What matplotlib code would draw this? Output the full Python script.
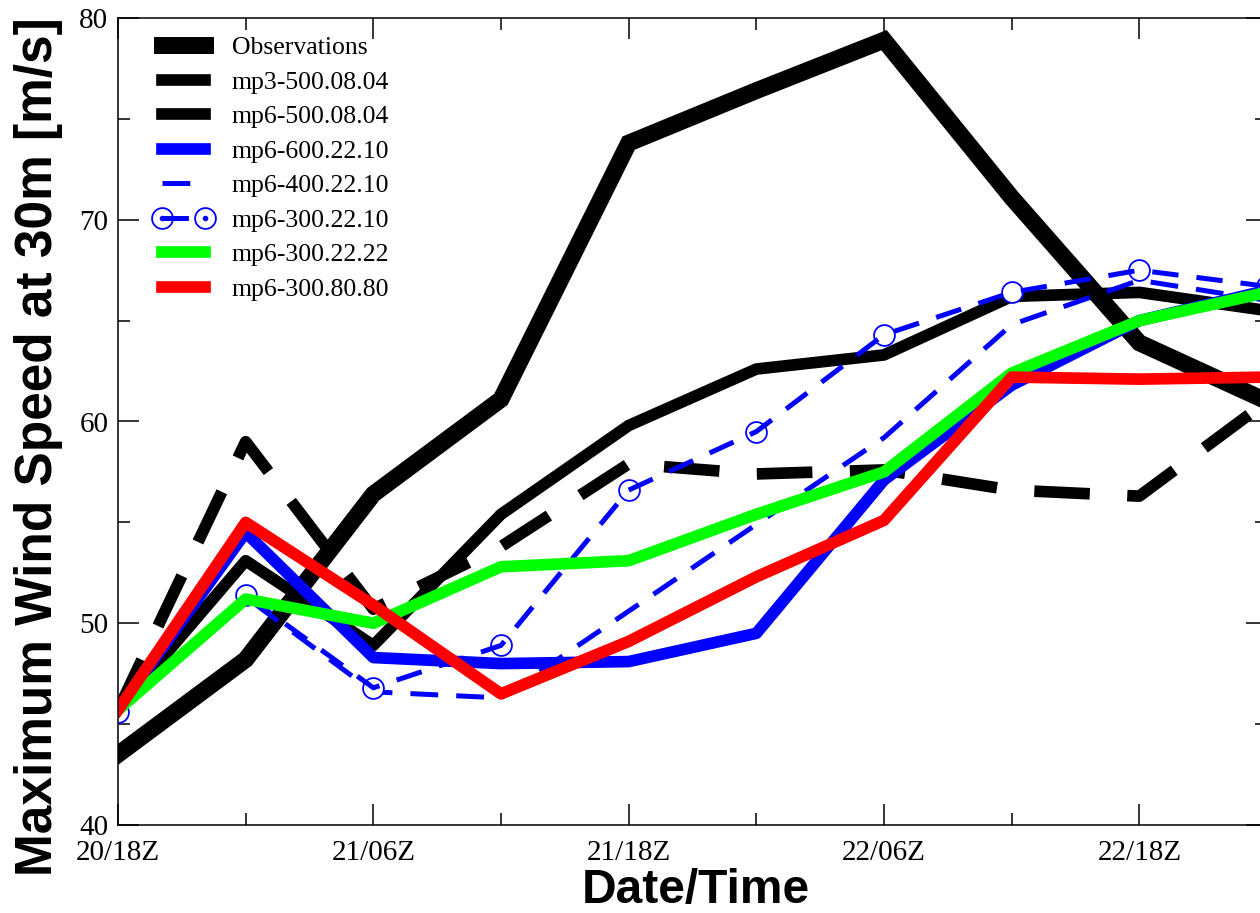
import matplotlib
matplotlib.use("Agg")
import matplotlib.pyplot as plt
from matplotlib.lines import Line2D
from matplotlib.ticker import MultipleLocator, FixedLocator, FixedFormatter

# --- data: hours after 20/18Z, every 6 h ---
hours = [0, 6, 12, 18, 24, 30, 36, 42, 48, 54]
tick_hours = [0, 12, 24, 36, 48]
tick_labels = ["20/18Z", "21/06Z", "21/18Z", "22/06Z", "22/18Z"]

obs = [43.5, 48.2, 56.4, 61.1, 73.8, 76.4, 78.9, 71.1, 63.9, 61.0]
mp3_500_08_04 = [45.7, 59.0, 50.7, 53.8, 57.9, 57.4, 57.6, 56.6, 56.3, 61.0]
mp6_500_08_04 = [45.7, 53.1, 48.9, 55.4, 59.8, 62.6, 63.3, 66.2, 66.4, 65.5]
mp6_600_22_10 = [45.7, 54.5, 48.3, 48.0, 48.1, 49.5, 57.1, 61.8, 65.0, 66.5]
mp6_400_22_10 = [45.7, 51.3, 46.6, 46.3, 50.6, 54.9, 59.2, 64.8, 67.0, 66.0]
mp6_300_22_10 = [45.6, 51.4, 46.8, 48.9, 56.6, 59.5, 64.3, 66.4, 67.5, 66.7]
mp6_300_22_22 = [45.7, 51.2, 50.0, 52.8, 53.1, 55.4, 57.5, 62.4, 65.0, 66.4]
mp6_300_80_80 = [45.7, 55.0, 50.9, 46.5, 49.1, 52.3, 55.1, 62.2, 62.1, 62.2]

plt.rcParams['lines.scale_dashes'] = False
serif = 'Liberation Serif'
sans = 'Liberation Sans'

fig = plt.figure(figsize=(12.6, 9.13), dpi=100)
ax = fig.add_axes([118 / 1260, 1 - 825 / 913, 1149 / 1260, 807 / 913])

lw_med = 8.4
ax.plot(hours, obs, color='black', lw=12.2, solid_joinstyle='miter', label='Observations')
ax.plot(hours, mp3_500_08_04, color='black', lw=lw_med, dashes=(40, 27),
        dash_capstyle='butt', label='mp3-500.08.04')
ax.plot(hours, mp6_500_08_04, color='black', lw=lw_med, label='mp6-500.08.04')
ax.plot(hours, mp6_600_22_10, color='#0000ff', lw=lw_med, label='mp6-600.22.10')
ax.plot(hours, mp6_400_22_10, color='#0000ff', lw=3.6, dashes=(20, 13),
        dash_capstyle='butt')
# circles under the dashed line
ax.plot(hours, mp6_300_22_10, ls='none', marker='o', ms=15, mfc='white',
        mec='#0000ff', mew=1.3)
ax.plot(hours, mp6_300_22_10, color='#0000ff', lw=3.6, dashes=(19, 13),
        dash_capstyle='butt')
ax.plot(hours, mp6_300_22_22, color='#00ff00', lw=lw_med, label='mp6-300.22.22')
ax.plot(hours, mp6_300_80_80, color='#ff0000', lw=lw_med, label='mp6-300.80.80')

ax.set_xlim(0, 54)
ax.set_ylim(40, 80)

ax.xaxis.set_major_locator(FixedLocator(tick_hours))
ax.xaxis.set_major_formatter(FixedFormatter(tick_labels))
ax.xaxis.set_minor_locator(MultipleLocator(6))
ax.yaxis.set_major_locator(MultipleLocator(10))
ax.yaxis.set_minor_locator(MultipleLocator(5))
ax.tick_params(which='both', direction='in', top=True, right=True, width=1.1,
               labelsize=21, colors='black')
ax.tick_params(which='major', length=15)
ax.tick_params(which='minor', length=8.5)
ax.tick_params(axis='x', pad=11)
ax.tick_params(axis='y', pad=7)
for lab in ax.get_xticklabels() + ax.get_yticklabels():
    lab.set_fontfamily(serif)
for sp in ax.spines.values():
    sp.set_linewidth(1.1)

fig.text(696 / 1260, 1 - 903 / 913, "Date/Time", ha='center', va='baseline',
         fontsize=34.5, fontweight='bold', family=sans)
fig.text(39 / 1260, 1 - 447 / 913, "Maximum Wind Speed at 30m [m/s]", ha='center',
         va='center', rotation=90, fontsize=37, fontweight='bold', family=sans)

# legend
handles = [
    Line2D([], [], color='black', lw=12.2),
    Line2D([], [], color='black', lw=lw_med),
    Line2D([], [], color='black', lw=lw_med),
    Line2D([], [], color='#0000ff', lw=lw_med),
    Line2D([], [], color='#0000ff', lw=3.6, dashes=(20, 11, 3.6, 11), dash_capstyle='butt'),
    (Line2D([], [], ls='none', marker='o', ms=15, mfc='white', mec='#0000ff', mew=1.3),
     Line2D([], [], color='#0000ff', lw=3.6, dashes=(19, 13), dash_capstyle='butt'),
     Line2D([], [], ls='none', marker='o', ms=3, mfc='#0000ff', mec='#0000ff')),
    Line2D([], [], color='#00ff00', lw=lw_med),
    Line2D([], [], color='#ff0000', lw=lw_med),
]
labels = ["Observations", "mp3-500.08.04", "mp6-500.08.04", "mp6-600.22.10",
          "mp6-400.22.10", "mp6-300.22.10", "mp6-300.22.22", "mp6-300.80.80"]
ax.legend(handles, labels, loc='upper left', bbox_to_anchor=(0.016, 1.0),
          frameon=False, numpoints=2, prop={'family': serif, 'size': 18.5},
          handlelength=2.27, handletextpad=0.74, labelspacing=0.45, borderpad=0.2)

fig.savefig("out.png", dpi=100)
